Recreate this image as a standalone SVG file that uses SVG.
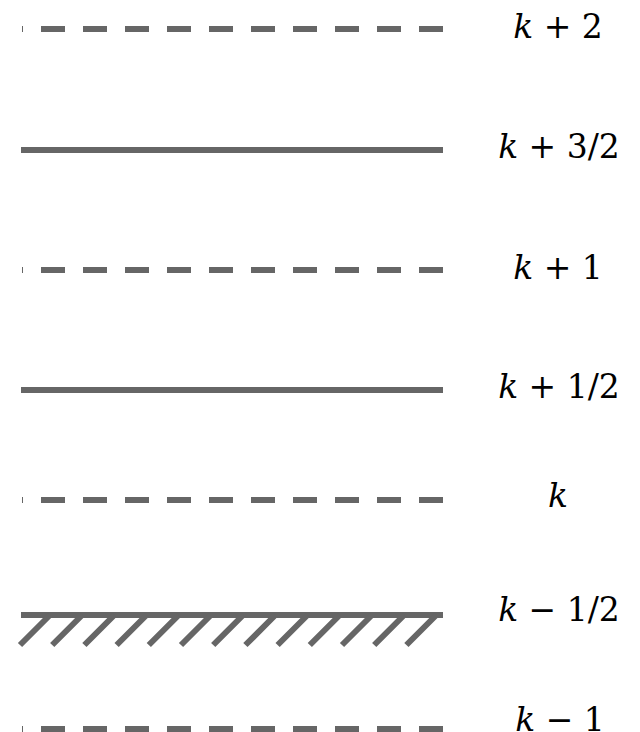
<svg xmlns="http://www.w3.org/2000/svg" width="640" height="732" viewBox="0 0 640 732">
<style>
.dash{stroke:#666666;stroke-width:6;fill:none;stroke-dasharray:24 18;stroke-dashoffset:23}
.solid{stroke:#666666;stroke-width:6;fill:none}
.hatch{stroke:#666666;stroke-width:6;fill:none}
.lbl{font-family:"DejaVu Serif","Liberation Serif",serif;font-size:33px;fill:#000;text-anchor:middle}
.it{font-style:italic}
</style>
<rect width="640" height="732" fill="#ffffff"/>
<g id="connectors">
<line class="dash" x1="22" y1="29" x2="443" y2="29"/>
<line class="solid" x1="21" y1="150" x2="443" y2="150"/>
<line class="dash" x1="22" y1="270" x2="443" y2="270"/>
<line class="solid" x1="21" y1="390" x2="443" y2="390"/>
<line class="dash" x1="22" y1="500" x2="443" y2="500"/>
<line class="solid" x1="21" y1="615" x2="443" y2="615"/>
<path class="hatch" d="M20,645L50,615M52.2,645L82.2,615M84.4,645L114.4,615M116.6,645L146.6,615M148.8,645L178.8,615M181,645L211,615M213.2,645L243.2,615M245.4,645L275.4,615M277.6,645L307.6,615M309.8,645L339.8,615M342,645L372,615M374.2,645L404.2,615M406.4,645L436.4,615"/>
<line class="dash" x1="22" y1="729" x2="443" y2="729"/>
</g>
<g id="level-k-plus-2"><text class="lbl" x="558" y="38"><tspan class="it">k</tspan> + 2</text></g>
<g id="level-k-plus-3-2"><text class="lbl" x="559" y="158"><tspan class="it">k</tspan> + 3/2</text></g>
<g id="level-k-plus-1"><text class="lbl" x="558" y="279"><tspan class="it">k</tspan> + 1</text></g>
<g id="level-k-plus-1-2"><text class="lbl" x="559" y="398"><tspan class="it">k</tspan> + 1/2</text></g>
<g id="level-k"><text class="lbl" x="558" y="507"><tspan class="it">k</tspan></text></g>
<g id="level-k-minus-1-2"><text class="lbl" x="559" y="621"><tspan class="it">k</tspan> − 1/2</text></g>
<g id="level-k-minus-1"><text class="lbl" x="560" y="731"><tspan class="it">k</tspan> − 1</text></g>
</svg>
